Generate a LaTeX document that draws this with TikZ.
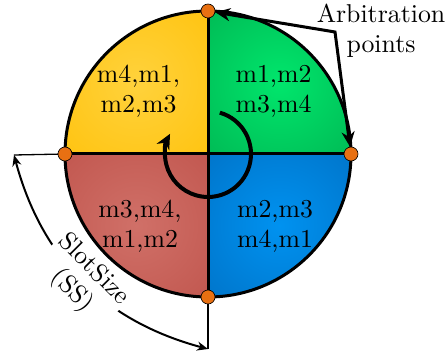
\documentclass[tikz,border=0pt]{standalone}
\usepackage{fontspec}
\usetikzlibrary{arrows.meta}
\definecolor{yelIn}{RGB}{255,210,60}
\definecolor{yelOut}{RGB}{255,190,0}
\definecolor{grnIn}{RGB}{0,230,108}
\definecolor{grnOut}{RGB}{0,170,76}
\definecolor{bluIn}{RGB}{0,146,240}
\definecolor{bluOut}{RGB}{0,106,188}
\definecolor{redIn}{RGB}{208,112,104}
\definecolor{redOut}{RGB}{188,78,70}
\definecolor{dotorange}{RGB}{232,112,18}
\pgfdeclareradialshading{yelshade}{\pgfpoint{0bp}{0bp}}{color(0bp)=(yelIn); color(50bp)=(yelOut); color(75bp)=(yelOut)}
\pgfdeclareradialshading{grnshade}{\pgfpoint{0bp}{0bp}}{color(0bp)=(grnIn); color(50bp)=(grnOut); color(75bp)=(grnOut)}
\pgfdeclareradialshading{blushade}{\pgfpoint{0bp}{0bp}}{color(0bp)=(bluIn); color(50bp)=(bluOut); color(75bp)=(bluOut)}
\pgfdeclareradialshading{redshade}{\pgfpoint{0bp}{0bp}}{color(0bp)=(redIn); color(50bp)=(redOut); color(75bp)=(redOut)}
\begin{document}
\begin{tikzpicture}[x=1pt,y=1pt,
  lbl/.style={font=\fontsize{10}{11.6}\selectfont, align=center, inner sep=0pt, scale=2.58},
  adot/.style={circle, fill=dotorange, draw=black, line width=0.6pt, minimum size=14pt, inner sep=0pt},
  heavy/.style={line width=3pt},
  thinline/.style={line width=1.3pt}
]
\useasboundingbox (0,0) rectangle (446,353);
\coordinate (O) at (208,199);
\def\R{143}
\coordinate (ptop) at (208,342);
\coordinate (pright) at (351,199);
\coordinate (pleft) at (65,199);
\coordinate (pbot) at (208,56);
% quadrants
\shade[shading=yelshade] (O) -- (ptop) arc[start angle=90,end angle=180,radius=\R] -- cycle;
\shade[shading=grnshade] (O) -- (pright) arc[start angle=0,end angle=90,radius=\R] -- cycle;
\shade[shading=blushade] (O) -- (pbot) arc[start angle=270,end angle=360,radius=\R] -- cycle;
\shade[shading=redshade] (O) -- (pleft) arc[start angle=180,end angle=270,radius=\R] -- cycle;
% dividers and outline
\draw[heavy] (ptop) -- (pbot);
\draw[heavy] (pleft) -- (pright);
\draw[heavy] (O) circle[radius=\R];
% rotation arrow
\draw[line width=4pt, -{Stealth[length=15pt,width=14pt]}] ([shift={(74:43)}]O) arc[start angle=74,end angle=-208,radius=43];
% labels
\node[lbl] (qy) at (138.5,262) {m4,m1,\\m2,m3};
\node[lbl] (qg) at (273.5,262) {m1,m2\\m3,m4};
\node[lbl] (qr) at (140,127) {m3,m4,\\m1,m2};
\node[lbl] (qb) at (275,127) {m2,m3\\m4,m1};
% slot size
\coordinate (L) at (14,198);
\coordinate (B) at (208,4);
\draw[thinline] (pleft) -- (L);
\draw[thinline] (pbot) -- (B);
\draw[line width=2pt, {Stealth[length=11pt,width=9pt]}-{Stealth[length=11pt,width=9pt]}] (L) to[bend right=30] node[midway, sloped, fill=white, lbl, inner sep=0.8pt] (ss) {SlotSize\\(SS)} (B);
% dots
\node[adot] (dtop) at (ptop) {};
\node[adot] (dright) at (pright) {};
\node[adot] (dleft) at (pleft) {};
\node[adot] (dbot) at (pbot) {};
% arbitration
\node[lbl] (arb) at (381,322.5) {Arbitration\\points};
\coordinate (J) at (335,321);
\draw[heavy, line join=miter, {Stealth[length=15pt,width=13pt]}-{Stealth[length=15pt,width=13pt]}] (dtop) -- (J) -- (dright);
\end{tikzpicture}
\end{document}
